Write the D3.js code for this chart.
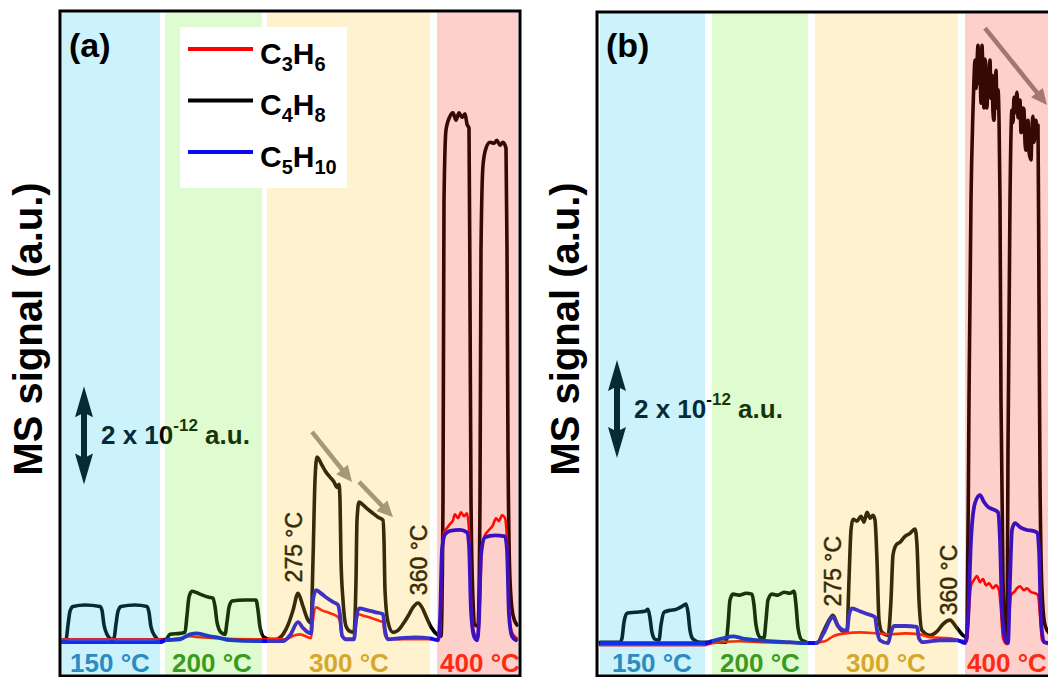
<!DOCTYPE html>
<html>
<head>
<title>MS signal</title>
<meta charset="utf-8">
<style type="text/css">
body { margin: 0; background: #fff; }
svg { display: block; font-family: "Liberation Sans", Arial, sans-serif; }
</style>
</head>
<body>
<svg id="chart"></svg>

<script src="https://cdn.jsdelivr.net/npm/d3@7"></script>
<script type="text/javascript">
const WIDTH = 1048;
const HEIGHT = 677;

// time in min from start of each panel, signal in 1e-12 a.u.
const SERIES = ["C3H6", "C4H8", "C5H10"];
const SERIES_COLORS = ["#ff0000", "#000000", "#0a0af0"];
const BAND_LABELS = ["150 °C", "200 °C", "300 °C", "400 °C"];
const BAND_LABEL_COLORS = ["#2a8cc2", "#3b9a22", "#d4a82c", "#ff2a14"];
const BAND_FILLS = ["#17c4f1", "#6ef129", "#ffc425", "#f62913"];

// ---- panel (a)
const bandsA = [[0, 98], [103, 200], [205, 368], [375, 456]];
const bandLabelPosA = [48, 150, 287, 418];
const c4h8A = [[0, 0.02], [4, 0.04], [6, 0.35], [8, 0.63], [11, 0.73], [23, 0.76], [38, 0.73], [40, 0.65], [42, 0.35],
  [45, 0.16], [50, 0.06], [52, 0.08], [54, 0.37], [56, 0.63], [59, 0.73], [73, 0.76], [85, 0.73], [87, 0.61], [89, 0.31],
  [93, 0.12], [98, 0.04], [104, 0.06], [108, 0.16], [118, 0.18], [123, 0.2], [125, 0.55], [127, 0.92], [130, 1.04],
  [138, 0.98], [146, 0.92], [151, 0.9], [153, 0.73], [155, 0.41], [159, 0.2], [163, 0.16], [165, 0.41], [167, 0.71],
  [170, 0.84], [183, 0.86], [194, 0.86], [196, 0.65], [198, 0.31], [202, 0.1], [208, 0.06], [214, 0.06], [221, 0.16],
  [226, 0.35], [231, 0.65], [236, 1.0], [241, 0.73], [246, 0.45], [249, 0.39], [251, 1.67], [253, 3.31], [255, 3.78],
  [260, 3.61], [264, 3.47], [268, 3.37], [272, 3.27], [275, 3.16], [277, 3.22], [278, 2.9], [279, 1.67], [281, 0.86],
  [284, 0.33], [288, 0.22], [292, 0.2], [294, 1.27], [295, 2.49], [297, 2.86], [301, 2.8], [306, 2.71], [311, 2.63],
  [316, 2.55], [321, 2.49], [322, 2.08], [323, 1.06], [326, 0.41], [331, 0.2], [336, 0.24], [341, 0.37], [346, 0.53],
  [351, 0.71], [356, 0.8], [360, 0.71], [364, 0.53], [369, 0.31], [375, 0.16], [379, 0.12], [381, 2.9], [382, 9.0],
  [384, 10.45], [388, 10.73], [391, 10.8], [394, 10.65], [397, 10.8], [400, 10.71], [403, 10.78], [405, 10.57],
  [407, 10.49], [408, 6.98], [409, 2.9], [411, 0.86], [413, 0.35], [416, 0.33], [418, 2.9], [419, 8.0], [421, 9.73],
  [424, 10.08], [428, 10.2], [432, 10.18], [435, 10.24], [438, 10.14], [441, 10.2], [444, 10.08], [445, 8.0],
  [446, 3.92], [448, 1.27], [451, 0.55], [455, 0.35]];
const c3h6A = [[0, 0.06], [98, 0.06], [104, 0.04], [118, 0.08], [128, 0.12], [138, 0.1], [153, 0.08], [200, 0.06],
  [223, 0.06], [233, 0.14], [238, 0.16], [246, 0.1], [249, 0.08], [251, 0.45], [254, 0.71], [260, 0.65], [268, 0.59],
  [276, 0.51], [278, 0.41], [280, 0.12], [284, 0.06], [292, 0.06], [294, 0.35], [296, 0.57], [303, 0.53], [310, 0.49],
  [318, 0.43], [321, 0.41], [323, 0.14], [326, 0.06], [375, 0.06], [378, 0.14], [380, 1.67], [382, 2.24], [385, 2.33],
  [388, 2.41], [391, 2.49], [393, 2.61], [396, 2.53], [399, 2.65], [402, 2.57], [405, 2.63], [407, 2.29], [409, 0.86],
  [412, 0.2], [416, 0.08], [418, 0.86], [420, 1.98], [423, 2.18], [427, 2.29], [431, 2.39], [434, 2.53], [437, 2.47],
  [440, 2.59], [443, 2.53], [445, 2.08], [447, 0.65], [450, 0.2], [455, 0.08]];
const c5h10A = [[0, 0], [98, 0], [104, 0.04], [118, 0.06], [128, 0.16], [135, 0.18], [148, 0.12], [155, 0.1],
  [168, 0.04], [200, 0.02], [221, 0.02], [228, 0.14], [236, 0.41], [241, 0.29], [246, 0.2], [249, 0.18], [251, 0.86],
  [254, 1.06], [260, 0.98], [265, 0.9], [271, 0.82], [276, 0.76], [278, 0.55], [280, 0.14], [284, 0.06], [292, 0.06],
  [294, 0.45], [297, 0.69], [306, 0.65], [314, 0.61], [321, 0.57], [323, 0.24], [326, 0.06], [338, 0.08], [353, 0.1],
  [368, 0.08], [376, 0.04], [378, 0.45], [380, 1.88], [383, 2.2], [388, 2.27], [398, 2.29], [405, 2.24], [407, 1.98],
  [409, 0.65], [412, 0.12], [415, 0.04], [417, 0.45], [419, 1.78], [423, 2.14], [433, 2.18], [443, 2.16], [445, 1.88],
  [447, 0.55], [450, 0.12], [454, 0.04]];
const tempNotesA = [["275 °C", 240, 1.22], ["360 °C", 365, 0.96]];
const trendArrowsA = [[250, 4.29, 290, 3.27], [297, 3.27, 331, 2.55]];
const scaleBarA = [22, 3.22, 5.22];

// ---- panel (b)
const bandsB = [[0, 105], [112, 208], [215, 358], [365, 460]];
const bandLabelPosB = [52, 160, 286, 407];
const c4h8B = [[0, 0], [20, 0], [22, 0.08], [24, 0.41], [27, 0.59], [35, 0.61], [45, 0.63], [48, 0.67], [50, 0.49],
  [52, 0.2], [55, 0.06], [59, 0.04], [61, 0.35], [64, 0.61], [70, 0.65], [76, 0.67], [82, 0.73], [86, 0.78], [88, 0.61],
  [90, 0.24], [93, 0.06], [100, 0], [112, 0], [126, 0], [128, 0.35], [130, 0.86], [133, 0.98], [140, 0.96], [146, 1.0],
  [152, 0.98], [154, 0.76], [156, 0.35], [160, 0.1], [164, 0.08], [166, 0.45], [168, 0.86], [172, 0.98], [178, 0.96],
  [184, 1.02], [190, 1.0], [194, 1.04], [196, 0.76], [198, 0.29], [202, 0.04], [212, -0.02], [218, 0], [223, 0.2],
  [229, 0.45], [233, 0.55], [238, 0.33], [243, 0.22], [247, 0.2], [249, 1.27], [251, 2.29], [253, 2.51], [257, 2.47],
  [261, 2.57], [264, 2.45], [267, 2.65], [270, 2.53], [273, 2.59], [275, 2.49], [277, 1.67], [279, 0.45], [282, 0.2],
  [288, 0.14], [291, 0.86], [293, 1.78], [296, 1.98], [300, 2.04], [305, 2.16], [310, 2.22], [315, 2.31], [317, 1.98],
  [319, 0.86], [322, 0.24], [330, 0.14], [337, 0.22], [343, 0.37], [350, 0.45], [357, 0.29], [363, 0.14], [367, 0.1],
  [369, 4.94], [371, 9.02], [373, 10.86], [374, 11.5], [375, 11.88], [376, 11.3], [378, 12.18], [379, 11.4],
  [380, 11.67], [381, 11.0], [382, 12.18], [383, 11.5], [384, 10.9], [385, 11.9], [386, 11.76], [387, 10.9],
  [388, 11.47], [389, 11.2], [390, 11.88], [391, 11.1], [392, 11.57], [393, 10.8], [394, 10.65], [395, 11.3],
  [396, 11.67], [397, 10.9], [398, 11.27], [399, 10.7], [400, 9.02], [401, 4.94], [403, 1.27], [405, 0.24], [407, 0.08],
  [408, 3.92], [410, 9.02], [412, 10.86], [413, 10.6], [414, 11.12], [415, 10.8], [417, 11.22], [418, 10.7],
  [420, 11.06], [421, 10.4], [422, 10.45], [423, 10.9], [424, 10.86], [425, 10.2], [426, 10.04], [427, 10.6],
  [428, 10.65], [429, 10.0], [431, 9.84], [432, 10.5], [433, 10.73], [434, 10.2], [436, 10.65], [437, 10.3],
  [438, 10.55], [439, 6.98], [440, 3.31], [442, 1.06], [445, 0.35], [450, 0.16], [458, 0.08]];
const c3h6B = [[0, -0.06], [105, -0.06], [112, -0.02], [140, 0.02], [160, 0], [208, -0.02], [225, 0.02], [233, 0.12],
  [245, 0.18], [260, 0.2], [277, 0.18], [290, 0.16], [305, 0.18], [320, 0.16], [330, 0.1], [350, 0.08], [367, 0.02],
  [369, 0.65], [371, 1.16], [374, 1.27], [377, 1.35], [380, 1.22], [383, 1.29], [386, 1.16], [389, 1.2], [393, 1.1],
  [396, 1.16], [399, 1.06], [401, 0.65], [403, 0.08], [407, -0.04], [409, 0.45], [411, 0.96], [414, 1.02], [417, 1.1],
  [420, 1.14], [424, 1.06], [427, 1.1], [431, 1.02], [435, 1.0], [438, 0.96], [440, 0.55], [442, 0.04], [450, -0.04],
  [458, -0.04]];
const c5h10B = [[0, -0.02], [105, -0.02], [112, 0.02], [123, 0.08], [133, 0.12], [142, 0.08], [157, 0.04], [190, 0],
  [205, -0.02], [217, -0.02], [223, 0.16], [233, 0.51], [238, 0.33], [245, 0.24], [247, 0.24], [249, 0.55], [252, 0.69],
  [260, 0.63], [268, 0.57], [275, 0.51], [277, 0.24], [280, 0.04], [288, -0.02], [291, 0.2], [294, 0.33], [305, 0.33],
  [317, 0.31], [319, 0.08], [323, 0], [340, 0.04], [357, 0.04], [365, -0.02], [368, 0.45], [371, 2.08], [375, 2.84],
  [380, 3.0], [384, 2.86], [388, 2.76], [393, 2.71], [398, 2.65], [400, 2.08], [402, 0.65], [405, 0.08], [408, -0.02],
  [410, 1.27], [412, 2.29], [415, 2.43], [420, 2.35], [427, 2.29], [433, 2.27], [437, 2.24], [439, 1.88], [441, 0.45],
  [444, 0], [458, -0.04]];
const tempNotesB = [["275 °C", 241, 0.73], ["360 °C", 357, 0.55]];
const trendArrowsB = [[385, 12.53, 447, 10.96]];
const scaleBarB = [17, 3.76, 5.76];

const Y_DOMAIN = [-0.69, 12.9];

const svg = d3.select("#chart")
    .attr("width", WIDTH)
    .attr("height", HEIGHT)
    .attr("viewBox", [0, 0, WIDTH, HEIGHT]);
svg.append("rect").attr("width", WIDTH).attr("height", HEIGHT).attr("fill", "#fff");

function drawPanel(p) {
    const x = d3.scaleLinear().domain(p.xDomain).range(p.xRange);
    const y = d3.scaleLinear().domain(Y_DOMAIN).range([676, 10]);
    const f = p.frame;

    svg.append("clipPath").attr("id", `clip-${p.id}`)
        .append("rect")
        .attr("x", f.x + 1.5).attr("y", f.y + 1.5)
        .attr("width", f.w - 3).attr("height", f.h - 3);

    const plot = svg.append("g").attr("clip-path", `url(#clip-${p.id})`);

    // data lines: C4H8 first, then C3H6, C5H10 on top
    const line = d3.line().x(d => x(d[0])).y(d => y(d[1])).curve(d3.curveMonotoneX);
    [[p.series[1], 1, 3.6], [p.series[0], 0, 2.6], [p.series[2], 2, 3.8]].forEach(([data, i, w]) => {
        plot.append("path").datum(data)
            .attr("fill", "none")
            .attr("stroke", SERIES_COLORS[i])
            .attr("stroke-width", w)
            .attr("stroke-linejoin", "round")
            .attr("stroke-linecap", "round")
            .attr("d", line);
    });

    // trend arrows
    p.trend.forEach(([t0, v0, t1, v1]) => {
        const x0 = x(t0), y0 = y(v0), x1 = x(t1), y1 = y(v1);
        const len = Math.hypot(x1 - x0, y1 - y0);
        const ux = (x1 - x0) / len, uy = (y1 - y0) / len;
        const hl = 16, hw = 7.5;
        const bx = x1 - ux * hl, by = y1 - uy * hl;
        plot.append("line")
            .attr("x1", x0).attr("y1", y0).attr("x2", bx + ux * 2).attr("y2", by + uy * 2)
            .attr("stroke", "#8c8c8c").attr("stroke-width", 4.5);
        plot.append("path")
            .attr("d", `M${x1},${y1}L${bx - uy * hw},${by + ux * hw}L${bx + uy * hw},${by - ux * hw}Z`)
            .attr("fill", "#8c8c8c");
    });

    // temperature notes
    p.notes.forEach(([label, t, v]) => {
        plot.append("text")
            .attr("transform", `translate(${x(t)},${y(v)}) rotate(-90)`)
            .attr("font-size", 23)
            .attr("fill", "#000")
            .attr("stroke", "#000")
            .attr("stroke-width", 0.5)
            .text(label);
    });

    // scale bar
    const [st, sv0, sv1] = p.scale;
    const cx = x(st), yb = y(sv0), yt = y(sv1);
    plot.append("path")
        .attr("d", `M${cx},${yt}L${cx + 9},${yt + 31}L${cx + 3},${yt + 28}L${cx + 3},${yb - 28}L${cx + 9},${yb - 31}`
            + `L${cx},${yb}L${cx - 9},${yb - 31}L${cx - 3},${yb - 28}L${cx - 3},${yt + 28}L${cx - 9},${yt + 31}Z`)
        .attr("fill", "#000");
    const st2 = plot.append("text")
        .attr("x", cx + 17)
        .attr("y", (yt + yb) / 2 + 9)
        .attr("font-size", 26)
        .attr("font-weight", "bold")
        .attr("fill", "#000");
    st2.append("tspan").text("2 x 10");
    st2.append("tspan").attr("font-size", 17).attr("dy", -13).text("-12");
    st2.append("tspan").attr("dy", 13).text(" a.u.");

    // temperature bands laid over the traces
    plot.selectAll("rect.band").data(p.bands).join("rect")
        .attr("class", "band")
        .attr("x", d => x(d[0]))
        .attr("width", d => x(d[1]) - x(d[0]))
        .attr("y", f.y)
        .attr("height", f.h)
        .attr("fill", (d, i) => BAND_FILLS[i])
        .attr("fill-opacity", 0.22);

    plot.selectAll("text.band").data(p.labelPos).join("text")
        .attr("class", "band")
        .attr("x", d => x(d))
        .attr("y", 672)
        .attr("text-anchor", "middle")
        .attr("font-size", 26)
        .attr("font-weight", "bold")
        .attr("fill", (d, i) => BAND_LABEL_COLORS[i])
        .text((d, i) => BAND_LABELS[i]);

    if (p.legend) {
        const lg = svg.append("g");
        lg.append("rect")
            .attr("x", 180).attr("y", 27).attr("width", 167).attr("height", 161)
            .attr("fill", "#fff");
        const subs = [["3", "6"], ["4", "8"], ["5", "10"]];
        SERIES.forEach((name, i) => {
            const ly = 49 + i * 51.5;
            lg.append("line")
                .attr("x1", 188).attr("x2", 253).attr("y1", ly).attr("y2", ly)
                .attr("stroke", SERIES_COLORS[i]).attr("stroke-width", 4);
            const t = lg.append("text")
                .attr("x", 260).attr("y", ly + 14.5)
                .attr("font-size", 30).attr("font-weight", "bold");
            t.append("tspan").text("C");
            t.append("tspan").attr("font-size", 20).attr("dy", 7).text(subs[i][0]);
            t.append("tspan").attr("dy", -7).text("H");
            t.append("tspan").attr("font-size", 20).attr("dy", 7).text(subs[i][1]);
        });
    }

    svg.append("text")
        .attr("x", f.x + 9).attr("y", 57)
        .attr("font-size", 34).attr("font-weight", "bold")
        .text(p.label);

    svg.append("rect")
        .attr("x", f.x).attr("y", f.y).attr("width", f.w).attr("height", f.h)
        .attr("fill", "none").attr("stroke", "#000").attr("stroke-width", 3);

    svg.append("text")
        .attr("transform", `translate(${f.x - 18},329) rotate(-90)`)
        .attr("text-anchor", "middle")
        .attr("font-size", 40).attr("font-weight", "bold")
        .text("MS signal (a.u.)");
}

drawPanel({
    id: "a", label: "(a)", legend: true,
    frame: {x: 60, y: 11, w: 460, h: 665},
    xDomain: [0, 456], xRange: [62, 518],
    bands: bandsA, labelPos: bandLabelPosA, series: [c3h6A, c4h8A, c5h10A],
    notes: tempNotesA, trend: trendArrowsA, scale: scaleBarA
});
drawPanel({
    id: "b", label: "(b)", legend: false,
    frame: {x: 597, y: 12, w: 463, h: 664},
    xDomain: [0, 460], xRange: [600, 1060],
    bands: bandsB, labelPos: bandLabelPosB, series: [c3h6B, c4h8B, c5h10B],
    notes: tempNotesB, trend: trendArrowsB, scale: scaleBarB
});
</script>
</body>
</html>
